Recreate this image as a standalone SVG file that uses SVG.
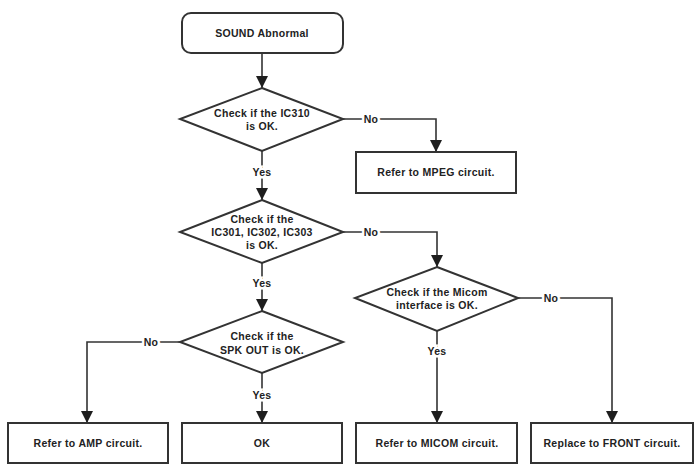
<svg xmlns="http://www.w3.org/2000/svg" width="695" height="468" viewBox="0 0 695 468">
<style>
.shape{fill:#fff;stroke:#333;stroke-width:2}
.conn{fill:none;stroke:#333;stroke-width:1.6}
text{font-family:"Liberation Sans",Arial,sans-serif;font-weight:bold;font-size:10.5px;letter-spacing:0.3px;fill:#222;text-anchor:middle;dominant-baseline:central}
.lbl{stroke:#fff;stroke-width:5;paint-order:stroke}
</style>
<defs>
<marker id="arr" viewBox="0 0 12 12" refX="12" refY="6" markerWidth="12" markerHeight="12" markerUnits="userSpaceOnUse" orient="auto">
<path d="M0,0 L12,6 L0,12 Z" fill="#1e1e1e"/>
</marker>
</defs>
<g id="connectors">
<path class="conn" d="M262 53 V88" marker-end="url(#arr)"/>
<path class="conn" d="M262 151 V200" marker-end="url(#arr)"/>
<path class="conn" d="M343 119 H436 V152" marker-end="url(#arr)"/>
<path class="conn" d="M262 263 V311" marker-end="url(#arr)"/>
<path class="conn" d="M343 232 H437 V267" marker-end="url(#arr)"/>
<path class="conn" d="M518 298 H612 V423" marker-end="url(#arr)"/>
<path class="conn" d="M437 331 V423" marker-end="url(#arr)"/>
<path class="conn" d="M180 342 H87 V423" marker-end="url(#arr)"/>
<path class="conn" d="M262 373 V423" marker-end="url(#arr)"/>
<text class="lbl" x="262" y="172">Yes</text>
<text class="lbl" x="371" y="119">No</text>
<text class="lbl" x="262" y="283">Yes</text>
<text class="lbl" x="371" y="232">No</text>
<text class="lbl" x="551" y="298">No</text>
<text class="lbl" x="437" y="351">Yes</text>
<text class="lbl" x="151" y="342">No</text>
<text class="lbl" x="262" y="395">Yes</text>
</g>
<g id="start">
<rect class="shape" x="182" y="13" width="161" height="40" rx="9"/>
<text x="262" y="33">SOUND Abnormal</text>
</g>
<g id="d1">
<polygon class="shape" points="262,88 343,119 262,151 180,119"/>
<text x="262" y="113">Check if the IC310</text>
<text x="262" y="126">is OK.</text>
</g>
<g id="mpeg">
<rect class="shape" x="356" y="152" width="160" height="41"/>
<text x="436" y="172">Refer to MPEG circuit.</text>
</g>
<g id="d2">
<polygon class="shape" points="262,200 343,232 262,263 180,232"/>
<text x="262" y="219">Check if the</text>
<text x="262" y="232">IC301, IC302, IC303</text>
<text x="262" y="245">is OK.</text>
</g>
<g id="d3">
<polygon class="shape" points="437,267 518,298 437,331 355,298"/>
<text x="437" y="292">Check if the Micom</text>
<text x="437" y="305">interface is OK.</text>
</g>
<g id="d4">
<polygon class="shape" points="262,311 343,342 262,373 180,342"/>
<text x="262" y="336">Check if the</text>
<text x="262" y="350">SPK OUT is OK.</text>
</g>
<g id="amp">
<rect class="shape" x="8" y="423" width="160" height="40"/>
<text x="88" y="443">Refer to AMP circuit.</text>
</g>
<g id="ok">
<rect class="shape" x="182" y="423" width="160" height="40"/>
<text x="262" y="443">OK</text>
</g>
<g id="micom">
<rect class="shape" x="356" y="423" width="161" height="40"/>
<text x="437" y="443">Refer to MICOM circuit.</text>
</g>
<g id="front">
<rect class="shape" x="531" y="423" width="162" height="40"/>
<text x="612" y="443">Replace to FRONT circuit.</text>
</g>
</svg>
